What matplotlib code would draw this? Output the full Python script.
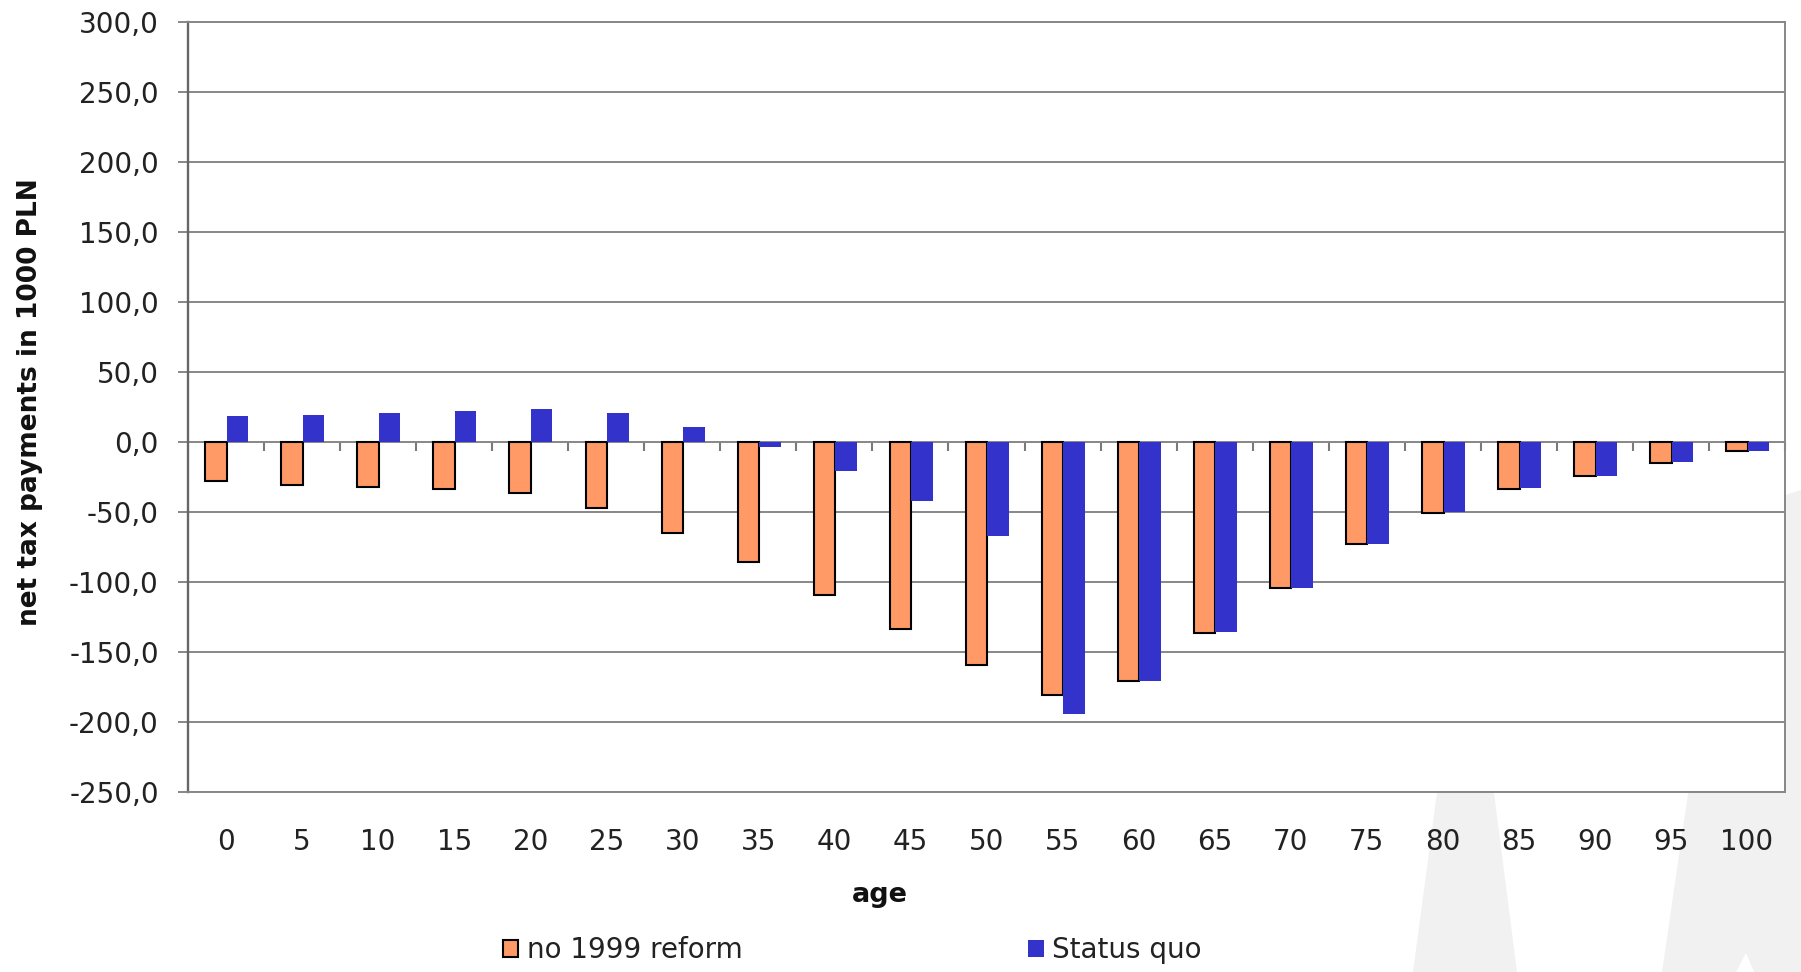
import matplotlib
matplotlib.use("Agg")
import matplotlib.pyplot as plt
import numpy as np
from matplotlib.patches import Polygon, Patch
from matplotlib.ticker import FuncFormatter

# Net tax payments by age (in 1000 PLN)
ages = ["0", "5", "10", "15", "20", "25", "30", "35", "40", "45", "50",
        "55", "60", "65", "70", "75", "80", "85", "90", "95", "100"]
no_reform = [-28.0, -31.0, -32.2, -33.6, -36.5, -47.2, -65.0, -86.0, -109.2,
             -133.5, -159.2, -180.6, -170.6, -136.2, -104.6, -73.2, -50.6,
             -33.6, -24.6, -15.0, -6.6]
status_quo = [18.3, 19.3, 21.0, 21.9, 23.3, 21.0, 10.7, -3.5, -20.5, -42.4,
              -67.4, -194.0, -170.4, -136.0, -104.2, -73.0, -50.2, -33.2,
              -24.4, -14.6, -6.2]
y_ticks = [300, 250, 200, 150, 100, 50, 0, -50, -100, -150, -200, -250]
series_names = ["no 1999 reform", "Status quo"]

ORANGE = "#FF9966"
BLUE = "#3333CC"
GRID = "#878787"
TEXT = "#222222"
LOGO = "#f1f1f1"

W, H = 1801, 972
plt.rcParams["font.family"] = ["DejaVu Sans"]
fig = plt.figure(figsize=(W / 100, H / 100), dpi=100, facecolor="white")


def fig_px(points):
    return [(x / W, 1 - y / H) for x, y in points]


# faint background logo shapes
for pts, col in [
    ([(1413, 972), (1438, 785), (1493, 785), (1517, 972)], LOGO),
    ([(1662, 972), (1690, 780), (1770, 510), (1785, 495), (1801, 490), (1801, 972)], LOGO),
    ([(1736, 972), (1746, 953), (1754, 972)], "white"),
]:
    fig.patches.append(Polygon(fig_px(pts), closed=True, transform=fig.transFigure,
                               facecolor=col, edgecolor="none", zorder=-5))

ax = fig.add_axes([188 / W, 180 / H, 1597 / W, 770 / H])
ax.set_facecolor("white")

x = np.arange(len(ages))
w = 0.283
ax.bar(x - w / 2 + 0.01, no_reform, w, color=ORANGE, edgecolor="black",
       linewidth=1.5, zorder=3, label=series_names[0])
ax.bar(x + w / 2 + 0.01, status_quo, w, color=BLUE, edgecolor="none",
       zorder=3, label=series_names[1])

ax.set_xlim(-0.5, len(ages) - 0.5)
ax.set_ylim(min(y_ticks), max(y_ticks))

# y axis: comma decimals, gray gridlines
ax.set_yticks(y_ticks)
ax.yaxis.set_major_formatter(FuncFormatter(lambda v, _: f"{v:.1f}".replace(".", ",")))
ax.yaxis.grid(True, color=GRID, linewidth=1.4)
ax.set_axisbelow(True)
ax.tick_params(axis="y", direction="out", length=7, width=1.4, color=GRID,
               pad=14, labelsize=20, labelcolor=TEXT)

# category labels at the bottom, without tick marks
ax.set_xticks(x)
ax.set_xticklabels(ages)
ax.tick_params(axis="x", length=0, pad=26, labelsize=20, labelcolor=TEXT)

for side in ["top", "right", "bottom"]:
    ax.spines[side].set_color(GRID)
    ax.spines[side].set_linewidth(1.4)
ax.spines["left"].set_color("#666666")
ax.spines["left"].set_linewidth(1.7)

# category axis crossing at zero with tick marks between categories
y0, y1 = ax.get_ylim()
cat_axis = ax.secondary_xaxis((0 - y0) / (y1 - y0))
cat_axis.set_xticks(x + 0.5)
cat_axis.tick_params(direction="out", length=6.5, width=1.5, color="#7a7a7a",
                     labelbottom=False, labeltop=False)
for sp in cat_axis.spines.values():
    sp.set_visible(False)

ax.set_ylabel("net tax payments in 1000 PLN", fontsize=19, fontweight="bold",
              color="#111111", va="center")
ax.yaxis.set_label_coords((30 - 188) / 1597, (792 - 402) / 770)
ax.set_xlabel("age", fontsize=19.5, fontweight="bold", color="#111111", va="center")
ax.xaxis.set_label_coords((880 - 188) / 1597, (792 - 895) / 770)

handles = [Patch(facecolor=ORANGE, edgecolor="black", linewidth=1.5),
           Patch(facecolor=BLUE, edgecolor="none")]
leg = fig.legend(handles, series_names, loc="center left",
                 bbox_to_anchor=(503 / W, 1 - 950 / H), ncol=2, frameon=False,
                 fontsize=20, handlelength=0.55, handleheight=0.55,
                 handletextpad=0.3, columnspacing=10.3, borderpad=0,
                 borderaxespad=0)
for t in leg.get_texts():
    t.set_color(TEXT)

fig.savefig("out.png", dpi=100, facecolor="white")
